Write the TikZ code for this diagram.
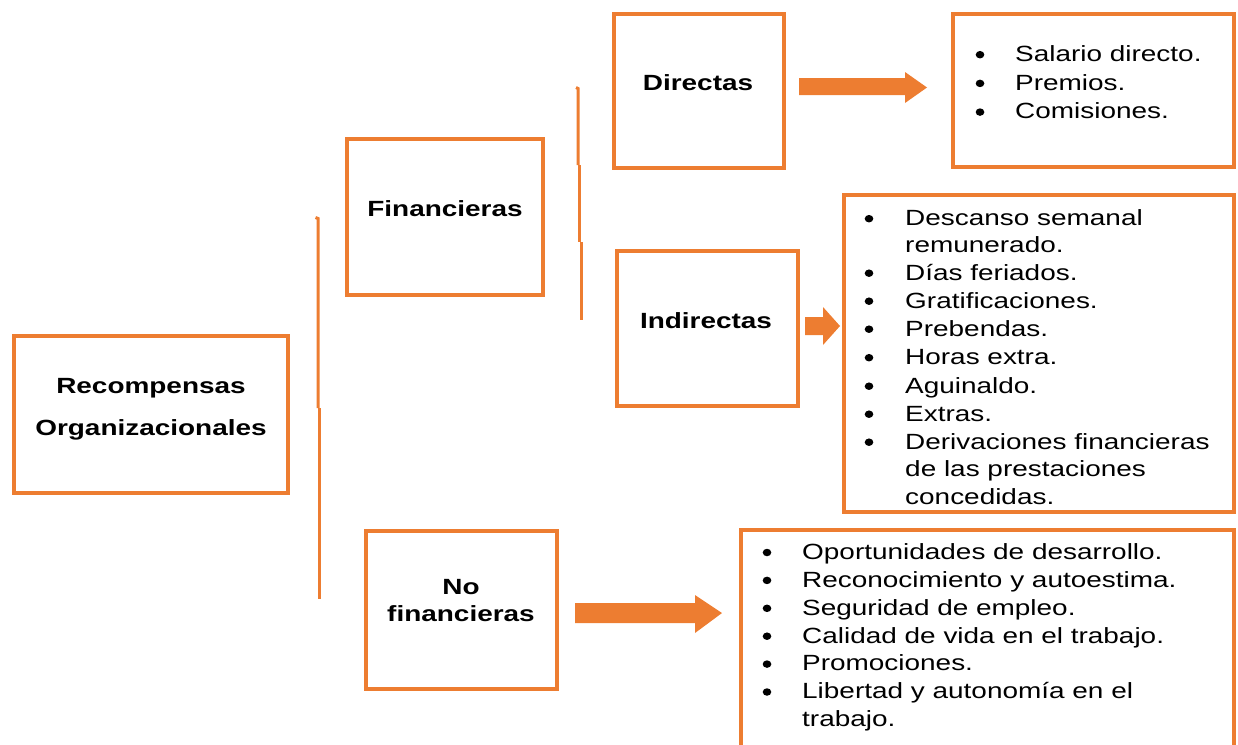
\documentclass[tikz,border=0pt]{standalone}
\usepackage{fontspec}
\setmainfont{Liberation Sans}[FakeStretch=1.27]
\definecolor{org}{RGB}{237,125,49}
\newcommand{\bitem}[5]{%
  \node[bul] (#1b) at (#2,#4-6.8) {};
  \node[itm] (#1) at (#3,#4) {#5};}
\begin{document}
\begin{tikzpicture}[x=1pt,y=-1pt,
  box/.style={draw=org,line width=4pt,inner sep=0pt,fill=none},
  ttl/.style={anchor=base,inner sep=0pt,font=\fontsize{22}{26}\selectfont\bfseries},
  itm/.style={anchor=base west,inner sep=0pt,font=\fontsize{22}{26}\selectfont},
  bul/.style={circle,fill=black,inner sep=0pt,minimum size=7.5pt,xscale=1.15},
  brk/.style={draw=org,line width=3pt},
  blk/.style={fill=org}]
\useasboundingbox (0,0) rectangle (1238,744);
% boxes
\node[box,minimum width=274pt,minimum height=157pt] (rec) at (151,414.5) {};
\node[box,minimum width=196pt,minimum height=156pt] (fin) at (445,217) {};
\node[box,minimum width=191pt,minimum height=158pt] (nof) at (461.5,610) {};
\node[box,minimum width=170pt,minimum height=154pt] (dir) at (699,91) {};
\node[box,minimum width=181pt,minimum height=155pt] (ind) at (707.5,328.5) {};
\node[box,minimum width=281pt,minimum height=153pt] (l1) at (1093.5,90.5) {};
\node[box,minimum width=390pt,minimum height=317pt] (l2) at (1039,353.5) {};
\draw[org,line width=4pt] (740.5,746) -- (740.5,529.5) -- (1234,529.5) -- (1234,746);
% titles
\node[ttl] (t1) at (151,393) {Recompensas};
\node[ttl] (t2) at (151,435) {Organizacionales};
\node[ttl] (t3) at (445,216) {Financieras};
\node[ttl] (t4) at (461,594.3) {No};
\node[ttl] (t5) at (461,621.7) {financieras};
\node[ttl] (t6) at (698,90) {Directas};
\node[ttl] (t7) at (706,328) {Indirectas};
% brackets
\draw[brk] (315.5,217.5) -- (318,218.5) -- (318,408);
\draw[brk] (319.5,408) -- (319.5,599);
\draw[brk] (576,87.5) -- (578,88.5) -- (578,165);
\draw[brk] (579.5,165) -- (579.5,242);
\draw[brk] (581,242) -- (581,320);
% block arrows
\fill[blk] (799,78) -- (905,78) -- (905,72) -- (927,87.5) -- (905,103) -- (905,95) -- (799,95) -- cycle;
\fill[blk] (805,317) -- (823,317) -- (823,307) -- (840,326) -- (823,345) -- (823,335) -- (805,335) -- cycle;
\fill[blk] (575,603) -- (695,603) -- (695,595) -- (722,613) -- (695,633) -- (695,623) -- (575,623) -- cycle;
% list 1
\bitem{a1}{980}{1015}{61.5}{Salario directo.}
\bitem{a2}{980}{1015}{90.2}{Premios.}
\bitem{a3}{980}{1015}{118.9}{Comisiones.}
% list 2
\bitem{b1}{869}{905}{225.5}{Descanso semanal}
\node[itm] (b1c) at (905,252.5) {remunerado.};
\bitem{b2}{869}{905}{280}{Días feriados.}
\bitem{b3}{869}{905}{308}{Gratificaciones.}
\bitem{b4}{869}{905}{336}{Prebendas.}
\bitem{b5}{869}{905}{364.5}{Horas extra.}
\bitem{b6}{869}{905}{393}{Aguinaldo.}
\bitem{b7}{869}{905}{421}{Extras.}
\bitem{b8}{869}{905}{449}{Derivaciones financieras}
\node[itm] (b8c) at (905,476.5) {de las prestaciones};
\node[itm] (b8d) at (905,504) {concedidas.};
% list 3
\bitem{c1}{767}{802}{559.3}{Oportunidades de desarrollo.}
\bitem{c2}{767}{802}{587.2}{Reconocimiento y autoestima.}
\bitem{c3}{767}{802}{615.1}{Seguridad de empleo.}
\bitem{c4}{767}{802}{643}{Calidad de vida en el trabajo.}
\bitem{c5}{767}{802}{670.9}{Promociones.}
\bitem{c6}{767}{802}{698.8}{Libertad y autonomía en el}
\node[itm] (c6c) at (802,726.7) {trabajo.};
\end{tikzpicture}
\end{document}
